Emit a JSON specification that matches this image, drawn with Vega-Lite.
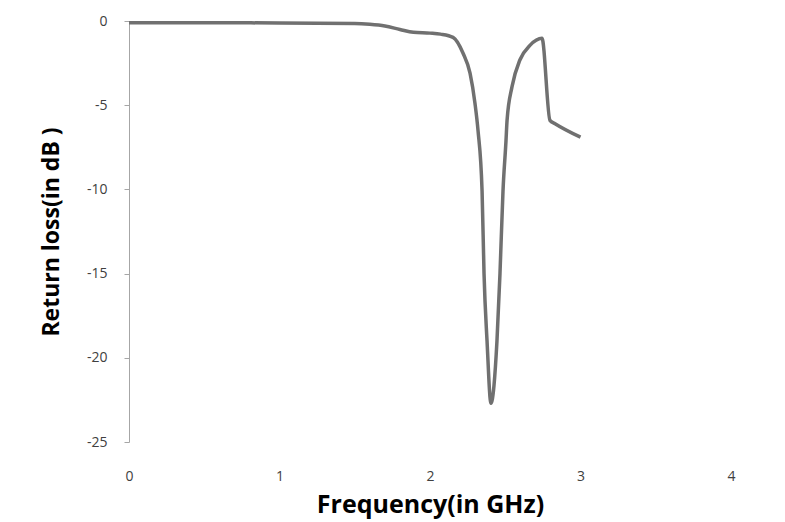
{
  "$schema": "https://vega.github.io/schema/vega-lite/v6.json",
  "width": 602,
  "height": 421,
  "autosize": {"type": "none"},
  "padding": {"left": 129, "top": 21, "right": 54, "bottom": 80},
  "background": "white",
  "config": {"view": {"stroke": null}, "font": "Open Sans"},
  "data": {"values": [
    {"f": 0, "rl": -0.1},
    {"f": 0.5, "rl": -0.1},
    {"f": 1.0, "rl": -0.12},
    {"f": 1.5, "rl": -0.15},
    {"f": 1.6, "rl": -0.2},
    {"f": 1.7, "rl": -0.3},
    {"f": 1.8, "rl": -0.5},
    {"f": 1.89, "rl": -0.67},
    {"f": 2.0, "rl": -0.72},
    {"f": 2.07, "rl": -0.78},
    {"f": 2.153, "rl": -0.97},
    {"f": 2.219, "rl": -1.9},
    {"f": 2.266, "rl": -3.1},
    {"f": 2.299, "rl": -4.9},
    {"f": 2.319, "rl": -6.5},
    {"f": 2.346, "rl": -10.1},
    {"f": 2.359, "rl": -15},
    {"f": 2.379, "rl": -19},
    {"f": 2.405, "rl": -22.7},
    {"f": 2.445, "rl": -19},
    {"f": 2.465, "rl": -15},
    {"f": 2.485, "rl": -10.1},
    {"f": 2.505, "rl": -7.1},
    {"f": 2.512, "rl": -5.9},
    {"f": 2.545, "rl": -3.9},
    {"f": 2.598, "rl": -2.3},
    {"f": 2.664, "rl": -1.45},
    {"f": 2.744, "rl": -1.03},
    {"f": 2.797, "rl": -5.9},
    {"f": 2.831, "rl": -6.1},
    {"f": 3.0, "rl": -6.9}
  ]},
  "mark": {"type": "line", "color": "#707070", "strokeWidth": 3.5, "interpolate": "monotone"},
  "encoding": {
    "x": {
      "field": "f", "type": "quantitative",
      "scale": {"domain": [0, 4], "nice": false},
      "axis": {
        "title": "Frequency(in GHz)", "values": [0, 1, 2, 3, 4], "labelExpr": "toString(datum.value)",
        "grid": false, "domain": false, "ticks": false, "labelFlush": false,
        "labelPadding": 27, "labelFontSize": 14, "labelColor": "#404040",
        "titleFontSize": 25, "titleFontWeight": "bold", "titleColor": "#000000", "titlePadding": 9
      }
    },
    "y": {
      "field": "rl", "type": "quantitative",
      "scale": {"domain": [-25, 0], "nice": false},
      "axis": {
        "title": "Return loss(in dB )", "values": [0, -5, -10, -15, -20, -25], "labelExpr": "toString(datum.value)",
        "grid": false, "domainColor": "#a6a6a6", "tickColor": "#a6a6a6", "tickSize": 5,
        "labelPadding": 17, "labelFontSize": 14, "labelColor": "#404040",
        "titleFontSize": 23, "titleFontWeight": "bold", "titleColor": "#000000", "titlePadding": 23
      }
    }
  }
}
